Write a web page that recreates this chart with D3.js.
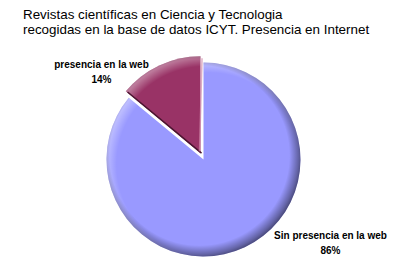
<!DOCTYPE html>
<html><head><meta charset="utf-8">
<script src="https://cdn.jsdelivr.net/npm/d3@7"></script>
<style>body{margin:0;background:#fff}svg{display:block}text{font-family:"Liberation Sans",Arial,sans-serif;fill:#000}</style>
</head><body><svg id="c" width="400" height="280"></svg>
<script>
const categories = ["Sin presencia en la web", "presencia en la web"];
const values = [86, 14];
const percentLabels = ["86%", "14%"];
const colors = ["#9999FF", "#993366"];
const titleLines = ["Revistas científicas en Ciencia y Tecnologia", "recogidas en la base de datos ICYT. Presencia en Internet"];

const svg = d3.select("#c");
const cx = 203.5, cy = 159.5, r = 97, explode = 7;
const defs = svg.append("defs");
const g = defs.append("radialGradient").attr("id","shade").attr("gradientUnits","userSpaceOnUse")
  .attr("cx",-4).attr("cy",-4).attr("r",r+5);
g.append("stop").attr("offset","0.88").attr("stop-color","#000").attr("stop-opacity",0);
g.append("stop").attr("offset","0.97").attr("stop-color","#000").attr("stop-opacity",0.35);
g.append("stop").attr("offset","1").attr("stop-color","#000").attr("stop-opacity",0.5);
const h = defs.append("radialGradient").attr("id","hl").attr("gradientUnits","userSpaceOnUse")
  .attr("cx",5).attr("cy",5).attr("r",r+5);
h.append("stop").attr("offset","0.9").attr("stop-color","#fff").attr("stop-opacity",0);
h.append("stop").attr("offset","1").attr("stop-color","#fff").attr("stop-opacity",0.35);

const pie = d3.pie().sort(null).startAngle(0).endAngle(2*Math.PI);
const arcs = pie(values);
const arc = d3.arc().innerRadius(0).outerRadius(r);
const root = svg.append("g").attr("transform",`translate(${cx},${cy})`);
arcs.forEach((a,i)=>{
  const mid = (a.startAngle+a.endAngle)/2;
  const off = i===1 ? explode : 0;
  const gg = root.append("g").attr("transform",`translate(${off*Math.sin(mid)},${-off*Math.cos(mid)})`);
  gg.append("path").attr("d",arc(a)).attr("fill",colors[i]);
  gg.append("path").attr("d",arc(a)).attr("fill","url(#hl)");
  gg.append("path").attr("d",arc(a)).attr("fill","url(#shade)");
  if (i===1) {
    const pt = ang => [ (r-1)*Math.sin(ang), -(r-1)*Math.cos(ang) ];
    const s = pt(a.startAngle), e = pt(a.endAngle);
    gg.append("line").attr("x1",1).attr("y1",0).attr("x2",s[0]+1).attr("y2",s[1])
      .attr("stroke","#4a1530").attr("stroke-width",1.5);
    gg.append("line").attr("x1",-1).attr("y1",-2).attr("x2",e[0]+1.5).attr("y2",e[1]+1)
      .attr("stroke","#d08aaa").attr("stroke-width",1.5).attr("stroke-opacity",0.7);
  }
});

const t = svg.append("text").attr("font-size",13.4);
titleLines.forEach((l,i)=>t.append("tspan").attr("x",23).attr("y",19+i*15).text(l));

const labelPos = [[330.5,239],[101.5,68]];
arcs.forEach((a,i)=>{
  const tx = svg.append("text").attr("font-size",10).attr("font-weight","bold").attr("text-anchor","middle");
  tx.append("tspan").attr("x",labelPos[i][0]).attr("y",labelPos[i][1]).text(categories[i]);
  tx.append("tspan").attr("x",labelPos[i][0]).attr("y",labelPos[i][1]+14.5).text(percentLabels[i]);
});
</script></body></html>
